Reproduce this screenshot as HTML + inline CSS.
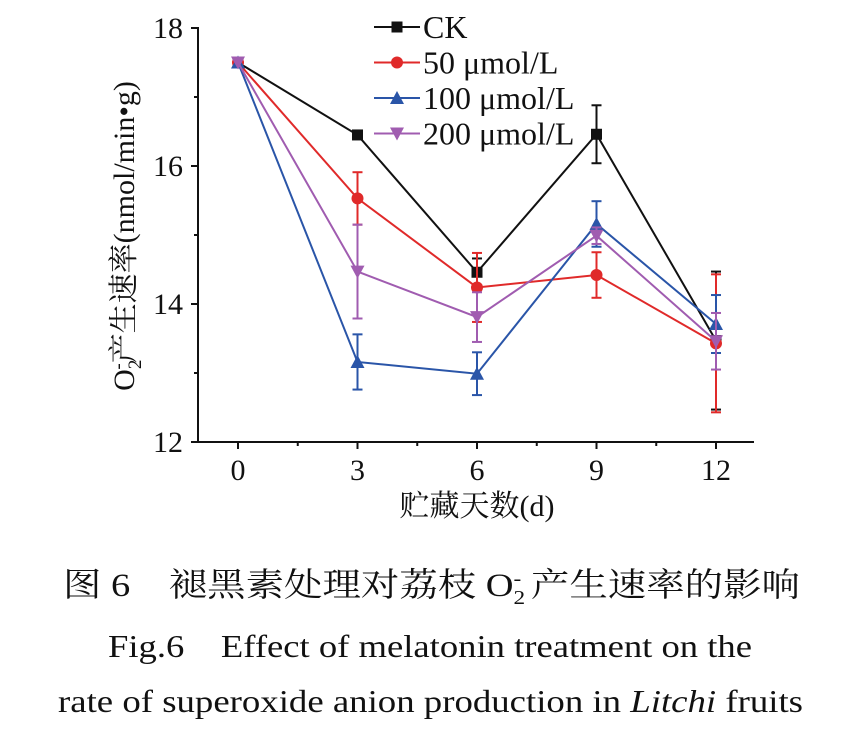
<!DOCTYPE html>
<html><head><meta charset="utf-8"><style>
body{margin:0;background:#fff;width:867px;height:735px;overflow:hidden}
svg text{font-family:"Liberation Serif","Noto Serif CJK SC",serif;fill:#111}
</style></head><body>
<svg width="867" height="735">
<g id="axes"></g><g id="series"></g><g id="legend"></g>
<text x="477" y="516" font-size="30" text-anchor="middle">贮藏天数(d)</text>
<text transform="translate(134,236) rotate(-90)" font-size="30" text-anchor="middle">O<tspan font-size="19" dy="7">2</tspan><tspan font-size="19" dy="-17" dx="-10">-</tspan><tspan dy="10">产生速率(nmol/min•g)</tspan></text>
<text x="63" y="596" font-size="33" textLength="737" lengthAdjust="spacingAndGlyphs">图 6　褪黑素处理对荔枝 O<tspan font-size="20" dy="8">2</tspan><tspan font-size="20" dy="-19" dx="-10">-</tspan><tspan dy="11"> 产生速率的影响</tspan></text>
<text x="108" y="657" font-size="32" textLength="644" lengthAdjust="spacingAndGlyphs">Fig.6　Effect of melatonin treatment on the</text>
<text x="58" y="712" font-size="32" textLength="745" lengthAdjust="spacingAndGlyphs">rate of superoxide anion production in <tspan font-style="italic">Litchi</tspan> fruits</text>
</svg>
<script>
const days=[0,3,6,9,12];
const yTicks=[12,14,16,18];
const seriesNames=["CK","50 μmol/L","100 μmol/L","200 μmol/L"];
const ck=[17.5,16.45,14.46,16.46,13.47];
const ckErr=[0,0.03,0.2,0.42,1.0];
const m50=[17.5,15.53,14.24,14.42,13.43];
const m50Err=[0,0.38,0.5,0.33,1.0];
const m100=[17.5,13.16,12.99,15.16,13.71];
const m100Err=[0,0.4,0.31,0.33,0.42];
const m200=[17.5,14.47,13.81,14.99,13.46];
const m200Err=[0,0.68,0.36,0.12,0.41];
const colors=["#111","#e02a2a","#2a55a8","#a05cb0"];
const shapes=["square","circle","tri","tridown"];
const NS="http://www.w3.org/2000/svg";
const X=d=>238+d*(716-238)/12, Y=v=>442-(v-12)*69;
function el(tag,attrs,parent){const e=document.createElementNS(NS,tag);for(const k in attrs)e.setAttribute(k,attrs[k]);parent.appendChild(e);return e;}
const ax=document.getElementById('axes');
let a=el('line',{x1:198,y1:442,x2:754,y2:442,stroke:'#111','stroke-width':2},ax);

a=el('line',{x1:198,y1:27,x2:198,y2:443,stroke:'#111','stroke-width':2},ax);

for(let v=12;v<=18;v++){const maj=yTicks.includes(v);el('line',{x1:198-(maj?7:4),x2:198,y1:Y(v),y2:Y(v),stroke:'#111','stroke-width':2},ax);}
yTicks.forEach(v=>{const t=el('text',{x:183,y:Y(v)+10,'font-size':30,'text-anchor':'end'},ax);t.textContent=v;
});
for(let d=0;d<=12;d+=1.5){const maj=d%3===0;el('line',{x1:X(d),x2:X(d),y1:442,y2:442+(maj?7:4),stroke:'#111','stroke-width':2},ax);}
days.forEach(d=>{const t=el('text',{x:X(d),y:480,'font-size':30,'text-anchor':'middle'},ax);t.textContent=d;
});
function marker(g,shape,x,y,c){
 if(shape==='square')return el('rect',{x:x-5.5,y:y-5.5,width:11,height:11,fill:c},g);
 if(shape==='circle')return el('circle',{cx:x,cy:y,r:6,fill:c},g);
 if(shape==='tri')return el('polygon',{points:`${x},${y-7} ${x-7},${y+6} ${x+7},${y+6}`,fill:c},g);
 return el('polygon',{points:`${x},${y+7} ${x-7},${y-6} ${x+7},${y-6}`,fill:c},g);
}
const sg=document.getElementById('series');
const allVals=[ck,m50,m100,m200], allErr=[ckErr,m50Err,m100Err,m200Err];
allVals.forEach((vals,i)=>{
 const g=el('g',{},sg);
 
 
 const c=colors[i];
 el('polyline',{points:vals.map((v,j)=>X(days[j])+','+Y(v)).join(' '),fill:'none',stroke:c,'stroke-width':2},g);
 vals.forEach((v,j)=>{const e=allErr[i][j];if(e>0){const x=X(days[j]);
  el('line',{x1:x,x2:x,y1:Y(v+e),y2:Y(v-e),stroke:c,'stroke-width':2},g);
  el('line',{x1:x-5,x2:x+5,y1:Y(v+e),y2:Y(v+e),stroke:c,'stroke-width':2},g);
  el('line',{x1:x-5,x2:x+5,y1:Y(v-e),y2:Y(v-e),stroke:c,'stroke-width':2},g);}});
 vals.forEach((v,j)=>{const m=marker(g,shapes[i],X(days[j]),Y(v),c);
  });
});
const lg=document.getElementById('legend');
seriesNames.forEach((n,i)=>{
 const y=27+i*35.5;const g=el('g',{},lg);
 
 
 el('line',{x1:374,x2:420,y1:y,y2:y,stroke:colors[i],'stroke-width':2},g);
 marker(g,shapes[i],397,y,colors[i]);
 const t=el('text',{x:423,y:y+11,'font-size':32},g);t.textContent=n;
});
</script>
</body></html>
